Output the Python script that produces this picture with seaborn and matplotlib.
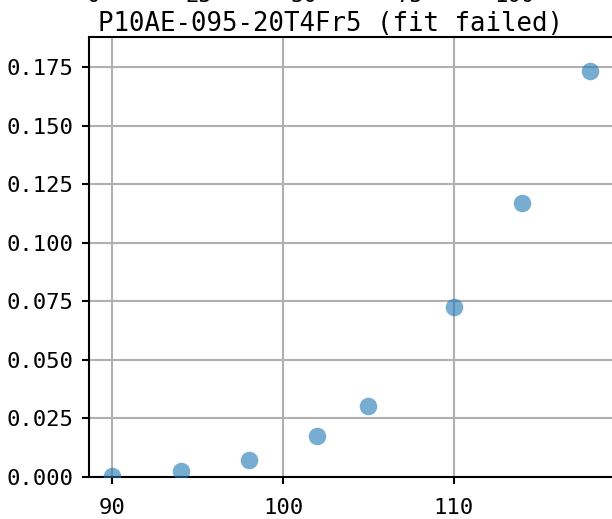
import matplotlib
matplotlib.use("Agg")
import matplotlib.pyplot as plt
from matplotlib.ticker import FormatStrFormatter
import numpy as np
import pandas as pd
import seaborn as sns

# Measured points for this sample
temperature = [90, 94, 98, 102, 105, 110, 114, 118]
response = [0.0004, 0.0025, 0.0073, 0.0175, 0.0303, 0.0725, 0.1170, 0.1733]
title_text = "P10AE-095-20T4Fr5 (fit failed)"
y_ticks = [0.000, 0.025, 0.050, 0.075, 0.100, 0.125, 0.150, 0.175]
x_ticks = [90, 100, 110]
upper_ticks = [0, 25, 50, 75, 100]

df = pd.DataFrame({"x": temperature, "y": response})

plt.rcParams["font.family"] = ["DejaVu Sans Mono", "DejaVu Sans"]

W, H, DPI = 612, 519, 100
fig = plt.figure(figsize=(W / DPI, H / DPI), dpi=DPI)

left, right = 88.6 / W, 614.0 / W
bottom, top = 1 - 477 / H, 1 - 37 / H
ax = fig.add_axes([left, bottom, right - left, top - bottom])

sns.scatterplot(data=df, x="x", y="y", ax=ax, color="#1f77b4", alpha=0.6,
                s=160, linewidth=0, zorder=3, legend=False)

ax.set_ylim(0, 0.1878)
ax.set_yticks(y_ticks)
ax.yaxis.set_major_formatter(FormatStrFormatter("%.3f"))
ax.set_xticks(x_ticks)
ax.set_xlabel("")
ax.set_ylabel("")
ax.grid(True, color="#b0b0b0", linewidth=1.5, zorder=0)
ax.set_axisbelow(True)
for side in ["left", "bottom", "top", "right"]:
    ax.spines[side].set_linewidth(1.5)
    ax.spines[side].set_color("black")
ax.tick_params(axis="both", length=5, width=1.5, labelsize=16)
ax.tick_params(axis="x", pad=10)
ax.tick_params(axis="y", pad=6)
ax.set_title(title_text, fontsize=18.5, pad=3, x=0.461)

# Neighbouring panel above: only the bottom of its tick labels shows
ax_up = fig.add_axes([left, 1 + 31 / H, right - left, 0.3])
ax_up.set_xlim(-1.04, 123.5)
ax_up.set_xticks(upper_ticks)
ax_up.set_yticks([])
ax_up.tick_params(axis="x", length=5, width=1.5, pad=7, labelsize=16)

fig.savefig("out.png", dpi=DPI)
